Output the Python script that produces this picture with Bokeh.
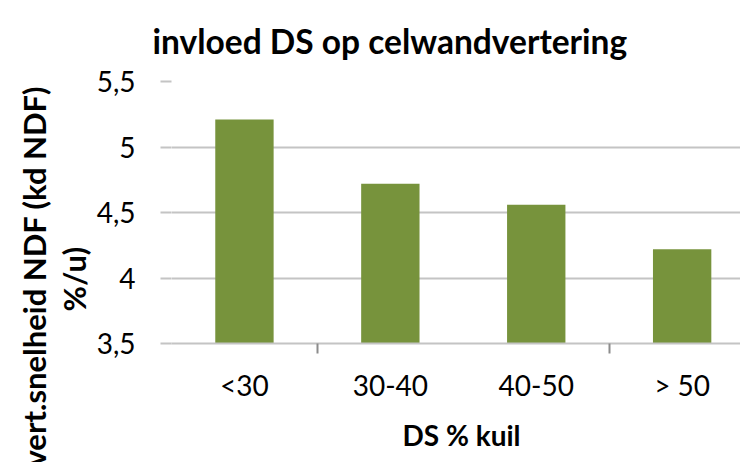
from bokeh.plotting import figure
from bokeh.models import Range1d, FixedTicker, Title
from bokeh.embed import file_html
from bokeh.resources import INLINE

# ---- data ----
categories = ["<30", "30-40", "40-50", "> 50"]
values = [5.21, 4.72, 4.56, 4.22]
y_ticks = [3.5, 4.0, 4.5, 5.0, 5.5]
y_tick_labels = ["3,5", "4", "4,5", "5", "5,5"]
title_text = "invloed DS op celwandvertering"
x_title = "DS % kuil"
y_title_lines = ["vert.snelheid NDF (kd NDF)", "%/u)"]

FONT = "Lato"
BAR = "#77933C"
GRID = "#c4c4c4"

x_pos = [i + 0.5 for i in range(len(categories))]
boundaries = [1, 3]

p = figure(width=740, height=462, output_backend="svg", toolbar_location=None,
           x_range=Range1d(0, 3.9), y_range=Range1d(3.5, 5.5),
           min_border_left=171, min_border_right=0, min_border_top=81,
           min_border_bottom=117)
p.outline_line_color = None
p.background_fill_color = "white"
p.border_fill_color = "white"

p.vbar(x=x_pos, top=values, bottom=3.5, width=0.4, fill_color=BAR, line_color=None)

# y axis
ya = p.yaxis[0]
ya.ticker = FixedTicker(ticks=y_ticks, minor_ticks=[])
ya.major_label_overrides = dict(zip(y_ticks, y_tick_labels))
ya.axis_line_color = None
ya.major_tick_out = 11
ya.major_tick_in = 0
ya.major_tick_line_color = GRID
ya.major_tick_line_width = 2
ya.minor_tick_line_color = None
ya.major_label_standoff = 25
ya.major_label_text_font = FONT
ya.major_label_text_font_size = "28px"
ya.major_label_text_color = "black"

# x axis
xa = p.xaxis[0]
xa.ticker = FixedTicker(ticks=x_pos, minor_ticks=boundaries)
xa.major_label_overrides = dict(zip(x_pos, categories))
xa.axis_line_color = GRID
xa.axis_line_width = 2
xa.major_tick_out = 0
xa.major_tick_in = 0
xa.minor_tick_out = 10
xa.minor_tick_in = 0
xa.minor_tick_line_color = "#8c8c8c"
xa.minor_tick_line_width = 2
xa.major_label_standoff = 14
xa.major_label_text_font = FONT
xa.major_label_text_font_size = "28px"
xa.major_label_text_color = "black"

p.xgrid.grid_line_color = None
p.ygrid.grid_line_color = GRID
p.ygrid.grid_line_width = 2

# title
p.title = Title(text=title_text, align="left", offset=-19, text_font=FONT,
                text_font_style="bold", text_font_size="33.5px", text_color="black",
                vertical_align="top", standoff=38)
# x title
p.add_layout(Title(text=x_title, align="left", offset=231, text_font=FONT,
                   text_font_style="bold", text_font_size="28px", text_color="black",
                   standoff=22), "below")
# y title lines (nearest to axis first)
p.add_layout(Title(text=y_title_lines[1], align="left", offset=32, text_font=FONT,
                   text_font_style="bold", text_font_size="31px", text_color="black",
                   vertical_align="middle", standoff=0), "left")
p.add_layout(Title(text=y_title_lines[0], align="left", offset=-123, text_font=FONT,
                   text_font_style="bold", text_font_size="31px", text_color="black",
                   vertical_align="middle", standoff=0), "left")

open("out.html", "w").write(file_html(p, INLINE))
